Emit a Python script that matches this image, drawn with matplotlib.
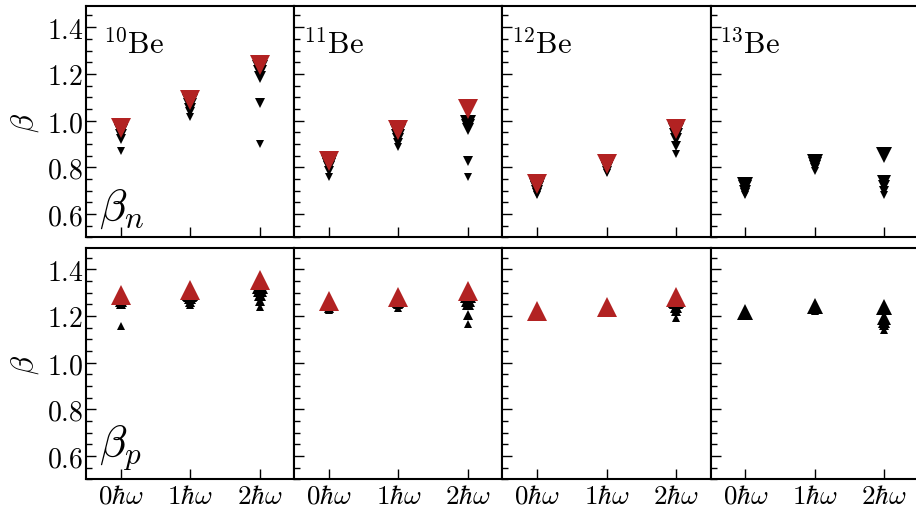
import matplotlib
matplotlib.use("Agg")
import matplotlib.pyplot as plt
from matplotlib.ticker import MultipleLocator, FuncFormatter

plt.rcParams['mathtext.fontset'] = 'cm'
plt.rcParams['font.family'] = ['DejaVu Serif']

# excitation categories (x axis)
excitations = [0, 1, 2]
x_labels = [r'$0\hbar\omega$', r'$1\hbar\omega$', r'$2\hbar\omega$']
nuclei = ['10', '11', '12', '13']
nmax_black = [2, 4, 6, 8, 10]   # truncations shown in black, increasing size

# neutron deformation beta_n: per excitation, one value per black truncation
bn_10be = [[0.870, 0.920, 0.940, 0.955, 0.962],
           [1.015, 1.035, 1.050, 1.065, 1.080],
           [0.900, 1.075, 1.185, 1.210, 1.225]]
bn_11be = [[0.760, 0.785, 0.800, 0.810, 0.820],
           [0.885, 0.905, 0.920, 0.935, 0.950],
           [0.757, 0.826, 0.965, 0.975, 0.990]]
bn_12be = [[0.680, 0.690, 0.700, 0.710, 0.720],
           [0.775, 0.785, 0.795, 0.805, 0.810],
           [0.855, 0.890, 0.920, 0.940, 0.955]]
bn_13be = [[0.680, 0.690, 0.700, 0.715, 0.725],
           [0.785, 0.795, 0.805, 0.815, 0.822],
           [0.680, 0.700, 0.720, 0.735, 0.853]]
# largest truncation (red)
bn_red = {'10': [0.970, 1.090, 1.240],
          '11': [0.828, 0.958, 1.050],
          '12': [0.728, 0.815, 0.965],
          '13': None}

# proton deformation beta_p
bp_10be = [[1.155, 1.250, 1.265, 1.275, 1.280],
           [1.245, 1.260, 1.275, 1.290, 1.300],
           [1.240, 1.265, 1.290, 1.310, 1.330]]
bp_11be = [[1.225, 1.235, 1.245, 1.250, 1.255],
           [1.235, 1.250, 1.260, 1.270, 1.275],
           [1.165, 1.205, 1.250, 1.270, 1.290]]
bp_12be = [[1.205, 1.210, 1.215, 1.218, 1.220],
           [1.215, 1.222, 1.228, 1.232, 1.235],
           [1.190, 1.220, 1.240, 1.260, 1.270]]
bp_13be = [[1.200, 1.205, 1.210, 1.213, 1.215],
           [1.220, 1.228, 1.235, 1.240, 1.243],
           [1.140, 1.160, 1.175, 1.190, 1.240]]
bp_red = {'10': [1.290, 1.310, 1.355],
          '11': [1.262, 1.282, 1.308],
          '12': [1.223, 1.239, 1.280],
          '13': None}

beta_n = {'10': bn_10be, '11': bn_11be, '12': bn_12be, '13': bn_13be}
beta_p = {'10': bp_10be, '11': bp_11be, '12': bp_12be, '13': bp_13be}

RED = '#b22222'


def size_for(nmax):
    return 4.0 + 0.75 * nmax


RED_SIZE = 14.0

fig, axes = plt.subplots(2, 4, figsize=(9.16, 5.10), dpi=100,
                         sharex=True, sharey=True,
                         gridspec_kw=dict(wspace=0.0, hspace=0.047))
fig.subplots_adjust(left=0.094, right=1.003, top=0.986, bottom=0.058)

for row, (data, red, marker, sym) in enumerate(
        [(beta_n, bn_red, 'v', r'$\beta_n$'),
         (beta_p, bp_red, '^', r'$\beta_p$')]):
    for col, nuc in enumerate(nuclei):
        ax = axes[row, col]
        for xi, vals in zip(excitations, data[nuc]):
            for nm, v in zip(nmax_black, vals):
                ax.plot(xi, v, marker=marker, color='black', ms=size_for(nm),
                        mew=0, ls='none', zorder=2)
        if red[nuc] is not None:
            ax.plot(excitations, red[nuc], marker=marker, color=RED,
                    ms=RED_SIZE, mew=0, ls='none', zorder=3)

        ax.set_xlim(-0.5, 2.5)
        ax.set_ylim(0.5, 1.49)
        ax.set_xticks(excitations)
        ax.yaxis.set_major_locator(MultipleLocator(0.2))
        ax.yaxis.set_minor_locator(MultipleLocator(0.05))
        ax.tick_params(axis='both', which='both', direction='in',
                       top=False, right=False, labelsize=20)
        ax.tick_params(axis='both', which='major', length=7, width=1.0)
        ax.tick_params(axis='y', which='minor', length=4, width=1.0)
        ax.tick_params(axis='y', pad=2)
        ax.tick_params(axis='x', pad=1.5, labelsize=19.5)
        for sp in ax.spines.values():
            sp.set_linewidth(1.5)

        if row == 0:
            tx = 0.08 if col == 0 else 0.04
            ax.text(tx, 0.80, r'$^{%s}\mathrm{Be}$' % nuc, transform=ax.transAxes,
                    fontsize=22, ha='left', va='baseline')
        if col == 0:
            ax.text(0.06, 0.03, sym, transform=ax.transAxes, fontsize=32,
                    ha='left', va='bottom')
            ax.set_ylabel(r'$\beta$', fontsize=22, labelpad=4)
            ax.yaxis.set_major_formatter(FuncFormatter(lambda v, p: r'$%.1f$' % v))

for ax in axes[1]:
    ax.set_xticklabels(x_labels)

fig.savefig('out.png', dpi=100)
